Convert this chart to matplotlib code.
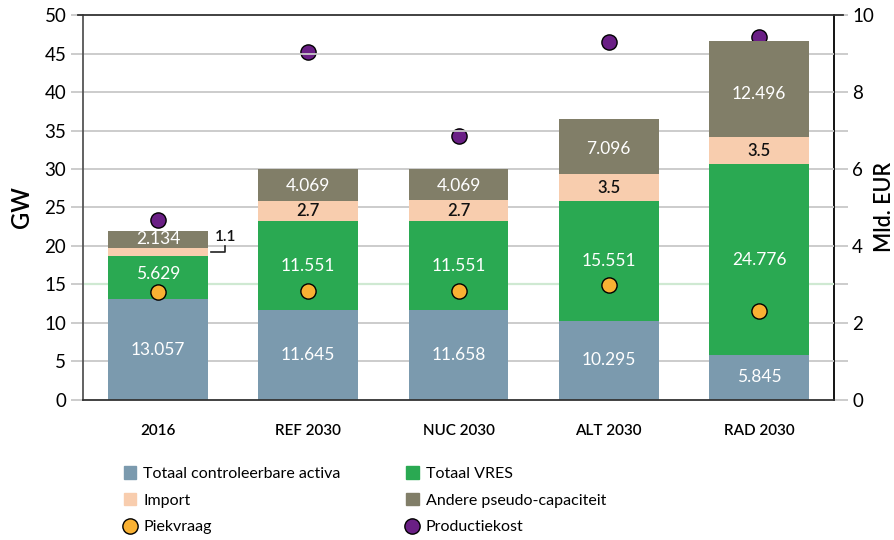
import matplotlib
matplotlib.use("Agg")
import matplotlib.pyplot as plt
import numpy as np
from matplotlib.patches import Patch
from matplotlib.lines import Line2D

plt.rcParams['font.family'] = ['Lato', 'DejaVu Sans']

# ------------------------------- data
scenarios = ['2016', 'REF 2030', 'NUC 2030', 'ALT 2030', 'RAD 2030']
controleerbaar = [13.057, 11.645, 11.658, 10.295, 5.845]
vres = [5.629, 11.551, 11.551, 15.551, 24.776]
importcap = [1.1, 2.7, 2.7, 3.5, 3.5]
pseudo = [2.134, 4.069, 4.069, 7.096, 12.496]
piekvraag = [14.0, 14.1, 14.15, 14.9, 11.6]      # GW
productiekost = [4.68, 9.05, 6.86, 9.29, 9.43]   # Mld. EUR

c_blue = '#7b9aae'
c_green = '#2aa952'
c_import = '#f8cdae'
c_pseudo = '#817e68'
c_orange = '#f9b133'
c_purple = '#6a1f85'
grid_c = '#c8c8c8'

fig = plt.figure(figsize=(8.94, 5.40), dpi=100)
ax = fig.add_axes([0.0928, 0.2593, 0.8402, 0.7129])
ax2 = ax.twinx()

x = np.arange(len(scenarios))
w = 0.665

# gridlines + green reference line
for yv in range(5, 50, 5):
    ax.axhline(yv, color=grid_c, lw=1.3, zorder=0)
ax.axhline(15, color='#cfe9d2', lw=1.6, zorder=0.5)

b0 = np.zeros(len(x))
layers = [(controleerbaar, c_blue, 'white'), (vres, c_green, 'white'),
          (importcap, c_import, '#111111'), (pseudo, c_pseudo, 'white')]
for vals, col, tc in layers:
    vals = np.array(vals)
    ax.bar(x, vals, w, bottom=b0, color=col, zorder=2)
    for i, v in enumerate(vals):
        if i == 0 and col == c_import:
            continue
        yy = b0[i] + v / 2
        if col == c_green and i == 0:
            yy = b0[i] + v * 0.58
        if col == c_pseudo and i > 0:
            yy = b0[i] + v * 0.45
        if col == c_import:
            ax.text(x[i], yy, '%g' % v, ha='center', va='center', color=tc,
                    fontsize=12, fontweight='semibold', zorder=5)
        else:
            ax.text(x[i], yy, '%.3f' % v, ha='center', va='center', color=tc,
                    fontsize=12.5, zorder=5)
    b0 = b0 + vals

# 1.1 annotation for 2016 import
imp_mid = controleerbaar[0] + vres[0] + importcap[0] / 2
ax.plot([x[0] + w / 2 + 0.02, x[0] + w / 2 + 0.11, x[0] + w / 2 + 0.11],
        [imp_mid, imp_mid, imp_mid + 0.8], color='#222222', lw=1.2, zorder=5)
ax.text(x[0] + w / 2 + 0.115, imp_mid + 1.0, '1.1', ha='center', va='bottom',
        fontsize=11, color='#111111', fontweight='semibold')

ax.scatter(x, piekvraag, s=120, color=c_orange, edgecolor='black', lw=1.0, zorder=6)
ax2.scatter(x, productiekost, s=120, color=c_purple, edgecolor='black', lw=1.0, zorder=6)

ax.set_xlim(-0.5, 4.5)
ax.set_ylim(0, 50)
ax2.set_ylim(0, 10)
ax.set_yticks(range(0, 51, 5))
ax2.set_yticks(range(0, 11, 2))
ax2.set_yticks(range(0, 11, 1), minor=True)
ax.set_xticks(x)
ax.set_xticklabels(scenarios, fontsize=11, fontweight='semibold')
ax.tick_params(axis='x', length=0, pad=17)
ax.tick_params(axis='y', length=9, color=grid_c, width=1.3, labelsize=13.5, pad=3)
ax2.tick_params(axis='y', which='major', length=10, color=grid_c, width=1.3, labelsize=13.5, pad=3)
ax2.tick_params(axis='y', which='minor', length=10, color=grid_c, width=1.3)
ax.set_ylabel('GW', fontsize=17, fontweight='semibold', labelpad=8)
ax2.set_ylabel('Mld. EUR', fontsize=15.5, fontweight='semibold', labelpad=0)

ax.set_zorder(ax2.get_zorder() + 1)
ax.patch.set_visible(False)
for a in (ax, ax2):
    for s in a.spines.values():
        s.set_linewidth(1.3)
ax.spines['left'].set_color('#555555')
ax2.spines['left'].set_visible(False)
ax2.spines['right'].set_color('black')
ax.spines['top'].set_visible(False)
ax.spines['right'].set_visible(False)
ax2.spines['bottom'].set_visible(False)
ax.spines['bottom'].set_color('#333333')
# top line extending beyond the frame
ax.plot([-0.53, 4.56], [50, 50], color='#333333', lw=1.3, clip_on=False, zorder=3)
ax2.spines['top'].set_visible(False)

h1 = [Patch(color=c_blue), Patch(color=c_import),
      Line2D([], [], marker='o', ls='', markersize=11, markerfacecolor=c_orange, markeredgecolor='black')]
l1 = ['Totaal controleerbare activa', 'Import', 'Piekvraag']
h2 = [Patch(color=c_green), Patch(color=c_pseudo),
      Line2D([], [], marker='o', ls='', markersize=11, markerfacecolor=c_purple, markeredgecolor='black')]
l2 = ['Totaal VRES', 'Andere pseudo-capaciteit', 'Productiekost']
kw = dict(frameon=False, fontsize=11.5, handlelength=0.8, handleheight=0.8, handletextpad=0.45,
          labelspacing=0.75, loc='upper left', borderaxespad=0)
fig.legend(h1, l1, bbox_to_anchor=(0.131, 0.148), **kw)
fig.legend(h2, l2, bbox_to_anchor=(0.447, 0.148), **kw)

fig.savefig('out.png', dpi=100)
